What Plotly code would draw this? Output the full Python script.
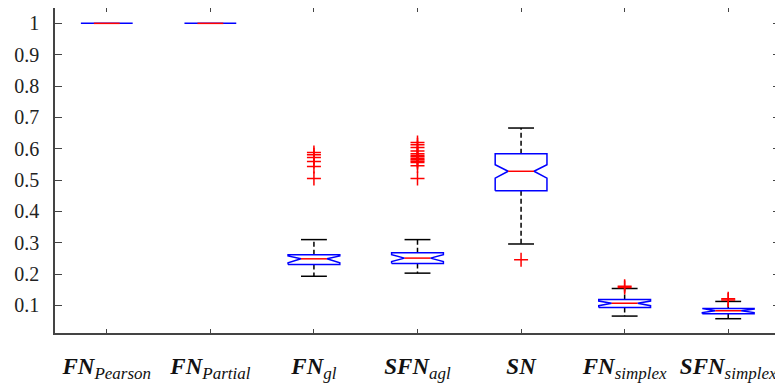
import plotly.graph_objects as go

# ---- data ----
main_text = ["FN", "FN", "FN", "SFN", "SN", "FN", "SFN"]
sub_text = ["Pearson", "Partial", "gl", "agl", "", "simplex", "simplex"]
positions = [1, 2, 3, 4, 5, 6, 7]
q1 =        [1.0, 1.0, 0.2305, 0.234, 0.466, 0.0936, 0.0735]
median =    [1.0, 1.0, 0.2487, 0.251, 0.528, 0.107, 0.083]
q3 =        [1.0, 1.0, 0.262, 0.268, 0.584, 0.119, 0.0904]
notch_lo =  [1.0, 1.0, 0.236, 0.240, 0.506, 0.099, 0.077]
notch_hi =  [1.0, 1.0, 0.258, 0.262, 0.549, 0.114, 0.088]
whisk_lo =  [1.0, 1.0, 0.193, 0.203, 0.296, 0.066, 0.0576]
whisk_hi =  [1.0, 1.0, 0.310, 0.310, 0.666, 0.154, 0.1127]
outliers = [
    [],
    [],
    [0.588, 0.581, 0.572, 0.559, 0.543, 0.505],
    [0.620, 0.613, 0.604, 0.593, 0.584, 0.578, 0.574, 0.569, 0.565, 0.560, 0.556, 0.546, 0.505],
    [0.246],
    [0.161, 0.157],
    [0.121, 0.117],
]
y_ticks = [0.1, 0.2, 0.3, 0.4, 0.5, 0.6, 0.7, 0.8, 0.9, 1.0]
y_tick_text = ["0.1", "0.2", "0.3", "0.4", "0.5", "0.6", "0.7", "0.8", "0.9", "1"]

# ---- style ----
BOX_HALF = 0.25
NOTCH_IN = 0.125
CAP_HALF = 0.125
BLUE = "#0000ff"
RED = "#ff0000"
SERIF = "Times New Roman"

labels = []
for m, s in zip(main_text, sub_text):
    t = "<b><i>" + m + "</i></b>"
    if s:
        t += "<sub><span style='font-size:17px'><i>" + s + "</i></span></sub>"
    labels.append(t)

fig = go.Figure()

for i, x in enumerate(positions):
    if whisk_hi[i] > q3[i]:
        fig.add_trace(go.Scatter(x=[x, x], y=[q3[i], whisk_hi[i]], mode="lines",
                                 line=dict(color="black", width=1.5, dash="5px,3px"),
                                 hoverinfo="skip", showlegend=False))
        fig.add_trace(go.Scatter(x=[x - CAP_HALF, x + CAP_HALF], y=[whisk_hi[i]] * 2, mode="lines",
                                 line=dict(color="black", width=1.5),
                                 hoverinfo="skip", showlegend=False))
    if whisk_lo[i] < q1[i]:
        fig.add_trace(go.Scatter(x=[x, x], y=[q1[i], whisk_lo[i]], mode="lines",
                                 line=dict(color="black", width=1.5, dash="5px,3px"),
                                 hoverinfo="skip", showlegend=False))
        fig.add_trace(go.Scatter(x=[x - CAP_HALF, x + CAP_HALF], y=[whisk_lo[i]] * 2, mode="lines",
                                 line=dict(color="black", width=1.5),
                                 hoverinfo="skip", showlegend=False))
    bx = [x - BOX_HALF, x - BOX_HALF, x - NOTCH_IN, x - BOX_HALF, x - BOX_HALF,
          x + BOX_HALF, x + BOX_HALF, x + NOTCH_IN, x + BOX_HALF, x + BOX_HALF, x - BOX_HALF]
    by = [q1[i], notch_lo[i], median[i], notch_hi[i], q3[i],
          q3[i], notch_hi[i], median[i], notch_lo[i], q1[i], q1[i]]
    fig.add_trace(go.Scatter(x=bx, y=by, mode="lines", line=dict(color=BLUE, width=1.5),
                             hoverinfo="skip", showlegend=False))
    fig.add_trace(go.Scatter(x=[x - NOTCH_IN, x + NOTCH_IN], y=[median[i]] * 2, mode="lines",
                             line=dict(color=RED, width=1.5), hoverinfo="skip", showlegend=False))
    if outliers[i]:
        fig.add_trace(go.Scatter(x=[x] * len(outliers[i]), y=outliers[i], mode="markers",
                                 marker=dict(symbol="cross-thin", size=10,
                                             line=dict(color=RED, width=1.5)),
                                 hoverinfo="skip", showlegend=False))

AXC = "#444444"
# page body has an 8px margin: shrink the figure so it fits the 783x391 window
fig.update_layout(
    width=775, height=383,
    margin=dict(l=47, r=3, t=0, b=58, autoexpand=False),
    plot_bgcolor="white", paper_bgcolor="white",
    font=dict(family=SERIF, color="#222222"),
    xaxis=dict(range=[0.5, 7.5], tickmode="array", tickvals=positions, ticktext=labels,
               ticks="inside", ticklen=4, tickcolor=AXC, tickwidth=1.2,
               showline=True, linecolor=AXC, linewidth=1.5, mirror="ticks",
               showgrid=False, zeroline=False, automargin=False,
               tickfont=dict(family=SERIF, size=23, color="#111111"),
               ticklabelstandoff=12),
    yaxis=dict(range=[0.012, 1.049], tickmode="array", tickvals=y_ticks, ticktext=y_tick_text,
               ticks="inside", ticklen=7, tickcolor=AXC, tickwidth=1.2,
               showline=True, linecolor=AXC, linewidth=1.5, mirror="ticks",
               showgrid=False, zeroline=False, automargin=False,
               tickfont=dict(family=SERIF, size=20, color="#222222"),
               ticklabelstandoff=10),
)

fig.write_html("out.html")
